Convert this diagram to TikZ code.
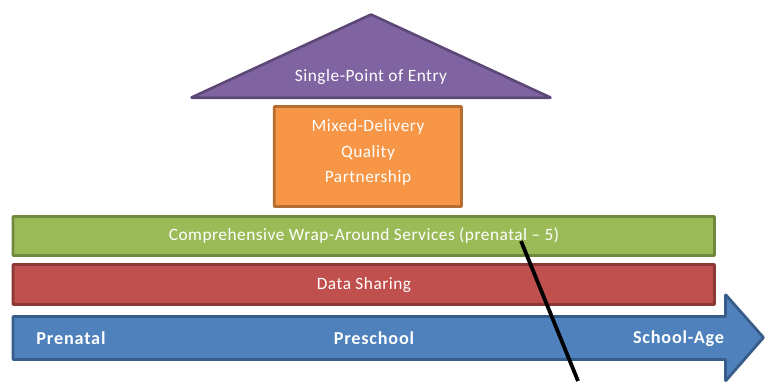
\documentclass[tikz,border=0pt]{standalone}
\usepackage{fontspec}
\setmainfont{Carlito}
\newfontfamily\lblfont[LetterSpace=3]{Carlito}
\newfontfamily\blblfont[LetterSpace=4.5]{Carlito}[BoldFont={Carlito Bold}]
\definecolor{purpF}{HTML}{8064A2}\definecolor{purpD}{HTML}{5C4776}
\definecolor{orF}{HTML}{F79646}\definecolor{orD}{HTML}{B66D31}
\definecolor{grF}{HTML}{9BBB59}\definecolor{grD}{HTML}{71893F}
\definecolor{rdF}{HTML}{C0504D}\definecolor{rdD}{HTML}{8C3836}
\definecolor{blF}{HTML}{4F81BD}\definecolor{blD}{HTML}{385D8A}
\tikzset{
  block/.style={line width=2.8pt,rounded corners=0.6pt,line join=round},
  lbl/.style={text=white,font=\lblfont\fontsize{17.3}{20}\selectfont,inner sep=0pt,align=center},
  blbl/.style={text=white,font=\blblfont\fontsize{18.2}{20}\selectfont\bfseries,inner sep=0pt},
}
\begin{document}
\begin{tikzpicture}[x=1pt,y=-1pt]
\useasboundingbox (0,0) rectangle (765,381);
\begin{scope}
\clip (0,0) rectangle (765,381);
\draw[block,fill=blF,draw=blD] (13,316.5) -- (725.5,316.5) -- (725.5,294.5) -- (763.5,337.5) -- (725.5,381) -- (725.5,359.5) -- (13,359.5) -- cycle;
\end{scope}
\draw[block,fill=rdF,draw=rdD] (13,264.5) rectangle (714.5,304.5);
\draw[block,fill=grF,draw=grD] (13,216.5) rectangle (714.5,255.5);
\draw[block,fill=orF,draw=orD] (274.2,106.5) rectangle (461.5,206.5);
\draw[block,line width=2.6pt,fill=purpF,draw=purpD] (371,14.5) -- (551,97.7) -- (191,97.7) -- cycle;
\node[lbl] (entry) at (371,77) {Single-Point of Entry};
\node[lbl] (mixed) at (368,127) {Mixed-Delivery};
\node[lbl] (quality) at (368,153) {Quality};
\node[lbl] (partner) at (368,178) {Partnership};
\node[lbl] (wrap) at (364,236) {Comprehensive Wrap-Around Services (prenatal – 5)};
\node[lbl] (data) at (364,285) {Data Sharing};
\node[blbl] (prenatal) at (71,338) {Prenatal};
\node[blbl] (preschool) at (374,338) {Preschool};
\node[blbl] (school) at (678.5,338.5) {School-Age};
\coordinate (lineA) at (521,241);
\coordinate (lineB) at (578,381);
\draw[line width=3.8pt,black] (lineA) -- (lineB);
\end{tikzpicture}
\end{document}
